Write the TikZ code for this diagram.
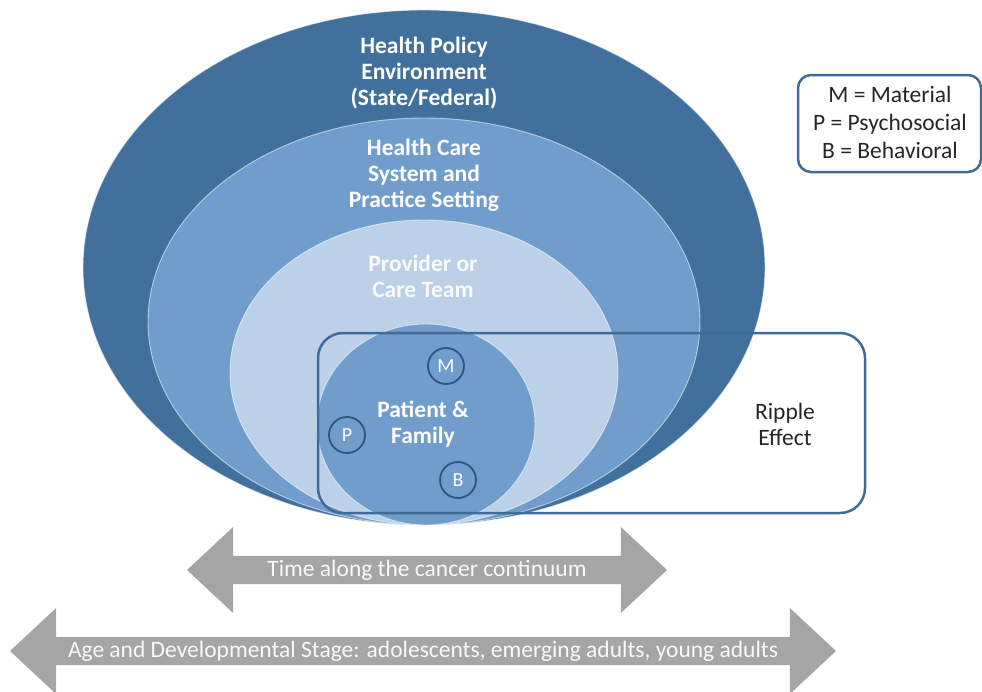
\documentclass[tikz,border=0pt]{standalone}
\usepackage{fontspec}
\setmainfont{Carlito}
\usetikzlibrary{shapes.arrows}
\definecolor{darkblue}{RGB}{65,112,156}
\definecolor{midblue}{RGB}{113,157,204}
\definecolor{lightblue}{RGB}{188,208,232}
\definecolor{edgeblue}{RGB}{62,107,152}
\definecolor{ringblue}{RGB}{44,86,130}
\definecolor{arrowgray}{RGB}{165,165,165}
\begin{document}
\begin{tikzpicture}[x=1pt,y=-1pt,
  ring/.style={draw=white,draw opacity=0.55,line width=0.9pt},
  lbl/.style={align=center,text=white,font=\bfseries\fontsize{23.5}{26}\selectfont},
  blk/.style={align=center,text=black!85,font=\fontsize{23.5}{26}\selectfont},
  letter/.style={circle,draw=ringblue,line width=1.8pt,minimum size=36pt,inner sep=0pt,text=white,font=\fontsize{20}{22}\selectfont},
  twoway/.style={double arrow,fill=arrowgray,draw=none,minimum width=86pt,double arrow head extend=21pt,double arrow tip angle=86,inner sep=0pt,text=white!95!gray,font=\fontsize{23.5}{24}\selectfont},
  frame/.style={draw=edgeblue,line width=2.5pt}]
\useasboundingbox (0,0) rectangle (982,691);
% nested ellipses
\path[fill=darkblue,ring] (424,267.5) ellipse [x radius=341,y radius=257.5];
\path[fill=midblue,ring] (424,321.5) ellipse [x radius=276,y radius=203.5];
\path[fill=lightblue,ring] (424,372.5) ellipse [x radius=194,y radius=152.5];
\path[fill=midblue,ring] (426,424.5) ellipse [x radius=109,y radius=100.5];
% labels
\node[lbl] (policy) at (424,73) {Health Policy\\Environment\\(State/Federal)};
\node[lbl] (system) at (424,175.5) {Health Care\\System and\\Practice Setting};
\node[lbl,text=white!92!lightblue] (provider) at (423,276) {Provider or\\Care Team};
\node[lbl] (patient) at (423,424) {Patient \&\\Family};
% M P B circles
\node[letter] (m) at (446,366) {M};
\node[letter] (p) at (347,435) {P};
\node[letter] (b) at (458,480) {B};
% ripple box
\draw[frame,rounded corners=25pt] (318,333) rectangle (865,513);
\node[blk] (ripple) at (785,424) {Ripple\\Effect};
% legend
\draw[frame,rounded corners=13pt] (798,75) rectangle (981,172);
\node[blk,font=\fontsize{23.5}{28}\selectfont] (legend) at (890,122) {M = Material\\P = Psychosocial\\B = Behavioral};
% arrows
\node[twoway,minimum height=480pt] (time) at (427,570) {Time along the cancer continuum};
\node[twoway,minimum height=826pt] (age) at (423,651) {Age and Developmental Stage: adolescents, emerging adults, young adults};
\end{tikzpicture}
\end{document}
